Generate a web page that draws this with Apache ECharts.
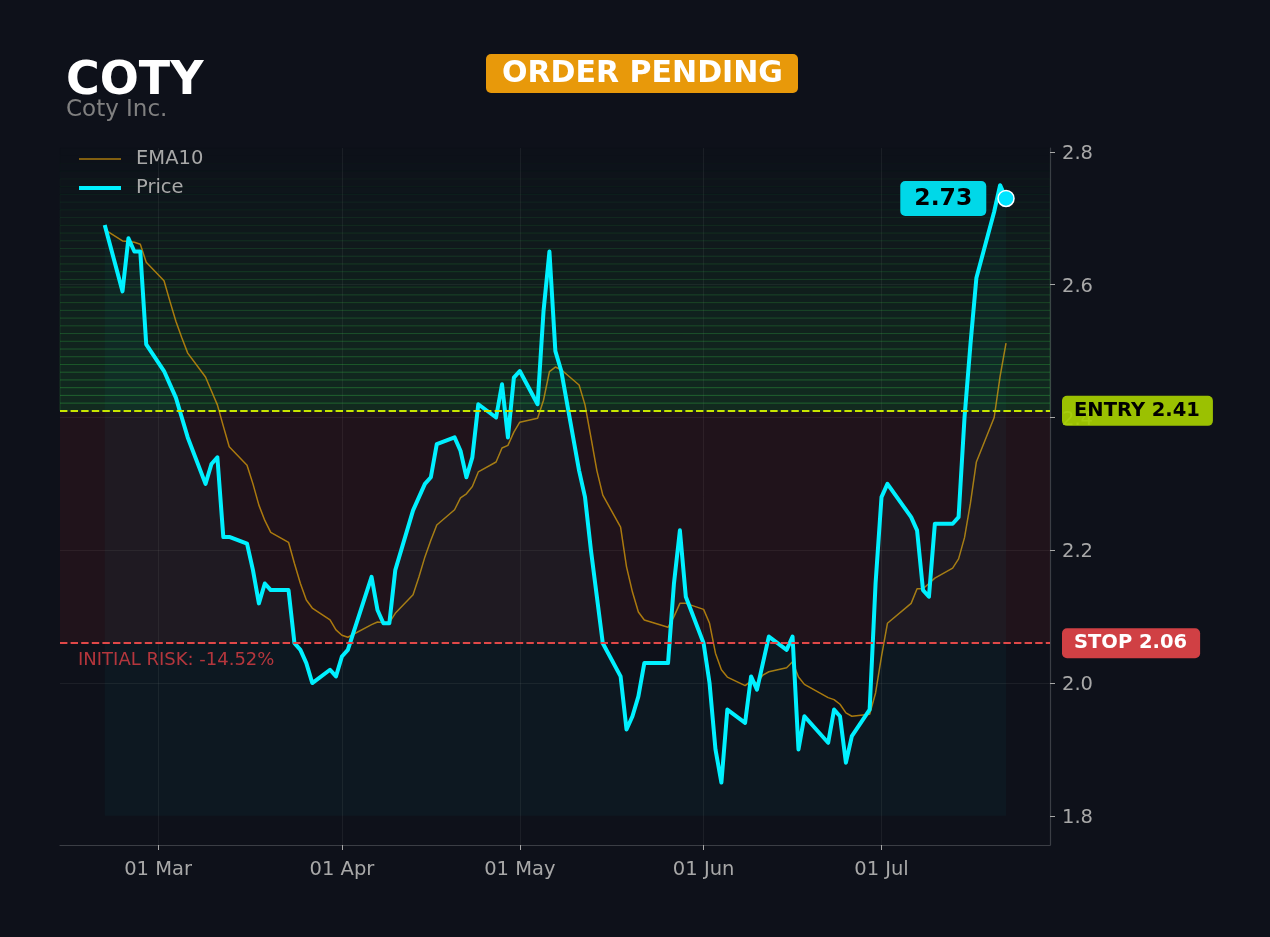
<!DOCTYPE html>
<html>
<head>
<meta charset="utf-8">
<title>COTY</title>
<script src="https://cdn.jsdelivr.net/npm/echarts@6/dist/echarts.min.js"></script>
<style>
  html, body { margin: 0; padding: 0; background: #0e111a; }
  #chart { width: 1270px; height: 937px; }
</style>
</head>
<body>
<div id="chart"></div>
<script>
// trading days shown in the chart
var dates = [
  '2026-02-20',
  '2026-02-23','2026-02-24','2026-02-25','2026-02-26','2026-02-27',
  '2026-03-02','2026-03-03','2026-03-04','2026-03-05','2026-03-06',
  '2026-03-09','2026-03-10','2026-03-11','2026-03-12','2026-03-13',
  '2026-03-16','2026-03-17','2026-03-18','2026-03-19','2026-03-20',
  '2026-03-23','2026-03-24','2026-03-25','2026-03-26','2026-03-27',
  '2026-03-30','2026-03-31','2026-04-01','2026-04-02',
  '2026-04-06','2026-04-07','2026-04-08','2026-04-09','2026-04-10',
  '2026-04-13','2026-04-14','2026-04-15','2026-04-16','2026-04-17',
  '2026-04-20','2026-04-21','2026-04-22','2026-04-23','2026-04-24',
  '2026-04-27','2026-04-28','2026-04-29','2026-04-30','2026-05-01',
  '2026-05-04','2026-05-05','2026-05-06','2026-05-07','2026-05-08',
  '2026-05-11','2026-05-12','2026-05-13','2026-05-14','2026-05-15',
  '2026-05-18','2026-05-19','2026-05-20','2026-05-21','2026-05-22',
  '2026-05-26','2026-05-27','2026-05-28','2026-05-29',
  '2026-06-01','2026-06-02','2026-06-03','2026-06-04','2026-06-05',
  '2026-06-08','2026-06-09','2026-06-10','2026-06-11','2026-06-12',
  '2026-06-15','2026-06-16','2026-06-17','2026-06-18',
  '2026-06-22','2026-06-23','2026-06-24','2026-06-25','2026-06-26',
  '2026-06-29','2026-06-30','2026-07-01','2026-07-02',
  '2026-07-06','2026-07-07','2026-07-08','2026-07-09','2026-07-10',
  '2026-07-13','2026-07-14','2026-07-15','2026-07-16','2026-07-17',
  '2026-07-20','2026-07-21','2026-07-22'
];

var price = [
  2.69,
  2.59, 2.67, 2.65, 2.65, 2.51,
  2.47, 2.45, 2.43, 2.40, 2.37,
  2.30, 2.33, 2.34, 2.22, 2.22,
  2.21, 2.17, 2.12, 2.15, 2.14,
  2.14, 2.06, 2.05, 2.03, 2.00,
  2.02, 2.01, 2.04, 2.05,
  2.16, 2.11, 2.09, 2.09, 2.17,
  2.26, 2.28, 2.30, 2.31, 2.36,
  2.37, 2.35, 2.31, 2.34, 2.42,
  2.40, 2.45, 2.37, 2.46, 2.47,
  2.42, 2.56, 2.65, 2.50, 2.47,
  2.32, 2.28, 2.20, 2.13, 2.06,
  2.01, 1.93, 1.95, 1.98, 2.03,
  2.03, 2.15, 2.23, 2.13,
  2.06, 2.00, 1.90, 1.85, 1.96,
  1.94, 2.01, 1.99, 2.03, 2.07,
  2.05, 2.07, 1.90, 1.95,
  1.91, 1.96, 1.95, 1.88, 1.92,
  1.96, 2.15, 2.28, 2.30,
  2.25, 2.23, 2.14, 2.13, 2.24,
  2.24, 2.25, 2.40, 2.51, 2.61,
  2.71, 2.75, 2.73
];

var ema10 = [
  2.683,
  2.666, 2.665, 2.664, 2.661, 2.634,
  2.606, 2.575, 2.545, 2.520, 2.497,
  2.461, 2.440, 2.419, 2.387, 2.356,
  2.328, 2.300, 2.268, 2.245, 2.227,
  2.212, 2.180, 2.150, 2.125, 2.113,
  2.095, 2.080, 2.072, 2.069,
  2.088, 2.092, 2.091, 2.091, 2.105,
  2.133, 2.160, 2.190, 2.215, 2.238,
  2.261, 2.279, 2.285, 2.296, 2.318,
  2.333, 2.354, 2.358, 2.378, 2.393,
  2.399, 2.426, 2.469, 2.476, 2.472,
  2.449, 2.419, 2.370, 2.320, 2.283,
  2.235, 2.175, 2.137, 2.107, 2.095,
  2.084, 2.100, 2.120, 2.120,
  2.111, 2.090, 2.045, 2.020, 2.009,
  1.996, 2.003, 2.000, 2.012, 2.017,
  2.023, 2.032, 2.009, 1.998,
  1.978, 1.975, 1.968, 1.955, 1.950,
  1.953, 1.985, 2.040, 2.090,
  2.120, 2.142, 2.142, 2.150, 2.158,
  2.173, 2.187, 2.219, 2.271, 2.333,
  2.400, 2.462, 2.512
];

var yTicks = [1.8, 2.0, 2.2, 2.4, 2.6, 2.8];
var monthNames = ['Jan','Feb','Mar','Apr','May','Jun','Jul','Aug','Sep','Oct','Nov','Dec'];

var ticker = 'COTY';
var company = 'Coty Inc.';
var status = 'ORDER PENDING';
var entryPrice = 2.41;
var stopPrice = 2.06;
var riskPct = -14.52;
var yMin = 1.756, yMax = 2.806;
var xMin = new Date(2026, 1, 12, 11).getTime();
var xMax = new Date(2026, 6, 29, 10).getTime();

function pairs(vals) {
  return dates.map(function (d, i) { return [d, vals[i]]; });
}

var FONT = 'DejaVu Sans';
var last = dates.length - 1;

// risk zone between stop and entry, then fading striped bands above entry
var zoneAreas = [
  [{ yAxis: stopPrice, itemStyle: { color: 'rgba(220,40,40,0.09)' } }, { yAxis: entryPrice }]
];
var nBands = 34;
for (var i = 0; i < nBands; i++) {
  var lo = entryPrice + (yMax - entryPrice) * i / nBands;
  var hi = entryPrice + (yMax - entryPrice) * (i + 1) / nBands;
  var a = 0.17 * Math.pow(1 - i / nBands, 1.05);
  zoneAreas.push([
    { yAxis: lo, itemStyle: { color: 'rgba(40,165,60,' + a.toFixed(3) + ')',
      borderColor: 'rgba(55,185,70,' + (a * 1.4).toFixed(3) + ')', borderWidth: 1 } },
    { yAxis: hi }
  ]);
}

var chart = echarts.init(document.getElementById('chart'));

chart.setOption({
  backgroundColor: '#0e111a',
  animation: false,
  textStyle: { fontFamily: FONT },
  graphic: [
    { type: 'text', left: 66, top: 59, style: { text: ticker, font: 'bold 46px "DejaVu Sans"', fill: '#ffffff' } },
    { type: 'text', left: 66, top: 99, style: { text: company, font: '23px "DejaVu Sans"', fill: '#808080' } },
    { type: 'rect', left: 486, top: 54, shape: { width: 312, height: 39, r: 5 }, style: { fill: '#e8990a' } },
    { type: 'text', left: 502, top: 59, style: { text: status, font: 'bold 30px "DejaVu Sans"', fill: '#ffffff' } }
  ],
  legend: {
    left: 72, top: 144, orient: 'vertical',
    itemWidth: 42, itemHeight: 14, itemGap: 9,
    data: [
      { name: 'EMA10', itemStyle: { opacity: 0 }, lineStyle: { width: 1.5 } },
      { name: 'Price', itemStyle: { opacity: 0 }, lineStyle: { width: 4 } }
    ],
    textStyle: { color: '#a8a8a8', fontSize: 19.5, fontFamily: FONT, padding: [0, 0, 0, 10] }
  },
  grid: { left: 60, right: 220, top: 148, bottom: 92, containLabel: false },
  xAxis: {
    type: 'time', min: xMin, max: xMax,
    minInterval: 28 * 86400000,
    axisLine: { show: true, lineStyle: { color: '#3b3e45', width: 1.2 } },
    axisTick: { show: true, length: 5, lineStyle: { color: '#a8a8a8' } },
    axisLabel: {
      color: '#a8a8a8', fontSize: 19.5, fontFamily: FONT, margin: 12, padding: [3, 0, 0, 0],
      formatter: function (v) {
        var d = new Date(v);
        return ('0' + d.getDate()).slice(-2) + ' ' + monthNames[d.getMonth()];
      }
    },
    splitLine: { show: true, showMinLine: false, showMaxLine: false,
      lineStyle: { color: 'rgba(255,255,255,0.06)', width: 1 } }
  },
  yAxis: {
    type: 'value', position: 'right', min: yMin, max: yMax, splitNumber: 5,
    axisLine: { show: true, lineStyle: { color: '#3b3e45', width: 1.2 } },
    axisTick: { show: true, length: 5, customValues: yTicks, lineStyle: { color: '#a8a8a8' } },
    axisLabel: {
      color: '#a8a8a8', fontSize: 19.5, fontFamily: FONT, margin: 12,
      verticalAlign: 'top', padding: [-8, 0, 0, 0],
      customValues: yTicks,
      formatter: function (v) { return v.toFixed(1); }
    },
    splitLine: { show: true, showMinLine: false, showMaxLine: false,
      lineStyle: { color: 'rgba(255,255,255,0.06)', width: 1 } }
  },
  series: [
    {
      name: 'zones', type: 'line', z: 1, silent: true,
      data: pairs(price), symbol: 'none',
      lineStyle: { width: 0, opacity: 0 },
      markArea: { silent: true, data: zoneAreas },
      markLine: {
        silent: true, symbol: 'none',
        data: [
          { yAxis: entryPrice,
            lineStyle: { color: '#c8e600', type: [7.4, 3.2], width: 2 },
            label: { show: true, position: 'end', distance: 12, formatter: 'ENTRY ' + entryPrice.toFixed(2),
              backgroundColor: 'rgba(166,207,0,0.93)', color: '#000000', fontWeight: 'bold', fontSize: 19.5,
              fontFamily: FONT, padding: [5, 13, 5, 12], borderRadius: 5 } },
          { yAxis: stopPrice,
            lineStyle: { color: '#e04848', type: [7.4, 3.2], width: 2 },
            label: { show: true, position: 'end', distance: 12, formatter: 'STOP ' + stopPrice.toFixed(2),
              backgroundColor: '#d04044', color: '#ffffff', fontWeight: 'bold', fontSize: 19.5,
              fontFamily: FONT, padding: [5, 13, 5, 12], borderRadius: 5 } },
          { yAxis: stopPrice,
            lineStyle: { color: 'rgba(0,0,0,0)', width: 0 },
            label: { show: true, position: 'insideStartBottom', distance: [18, 8],
              formatter: 'INITIAL RISK: ' + riskPct.toFixed(2) + '%',
              color: 'rgba(210,60,66,0.85)', fontSize: 18, fontFamily: FONT } }
        ]
      }
    },
    {
      name: 'EMA10', type: 'line', z: 2, data: pairs(ema10), symbol: 'none',
      lineStyle: { color: 'rgba(196,140,12,0.85)', width: 1.5 },
      itemStyle: { color: 'rgba(196,140,12,0.85)' }
    },
    {
      name: 'Price', type: 'line', z: 3, data: pairs(price), symbol: 'none',
      lineStyle: { color: '#00f0ff', width: 4, join: 'round' },
      itemStyle: { color: '#00f0ff' },
      areaStyle: { color: 'rgba(0,240,255,0.045)', origin: 1.8 }
    },
    {
      name: 'last', type: 'scatter', z: 4, silent: true,
      data: [[dates[last], price[last]]],
      symbolSize: 16,
      itemStyle: { color: '#00e5ff', borderColor: '#ffffff', borderWidth: 1.5, opacity: 1 },
      label: {
        show: true, position: 'left', distance: 11, opacity: 1,
        formatter: function (p) { return p.value[1].toFixed(2); },
        backgroundColor: '#00d8e8', color: '#000000', fontWeight: 'bold', fontSize: 23.5,
        fontFamily: FONT, padding: [6, 14, 5, 14], borderRadius: 5
      }
    }
  ]
});
</script>
</body>
</html>
